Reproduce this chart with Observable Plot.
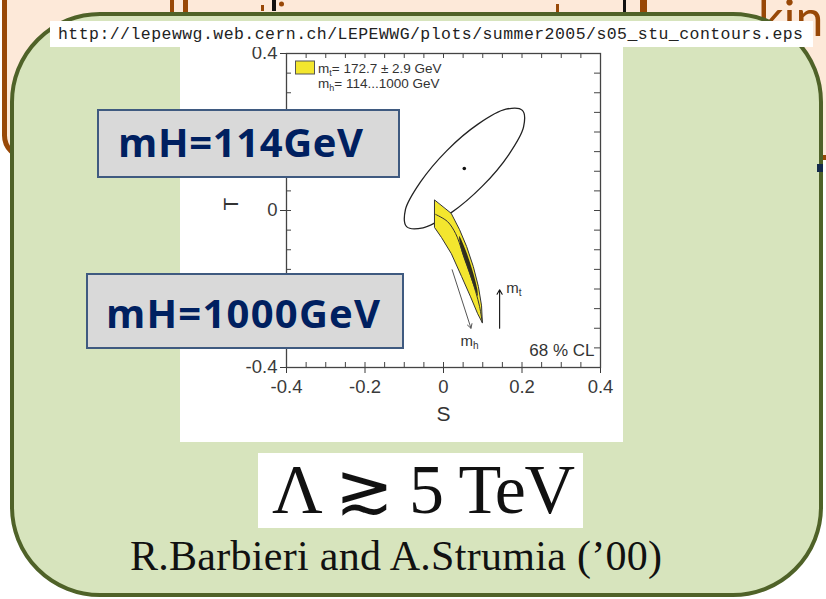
<!DOCTYPE html>
<html><head><meta charset="utf-8">
<script src="https://cdn.jsdelivr.net/npm/d3@7"></script>
<script src="https://cdn.jsdelivr.net/npm/@observablehq/plot@0.6"></script>
<style>
html,body{margin:0;padding:0;background:#fff;}
#slide{position:relative;width:826px;height:599px;overflow:hidden;background:#fff;}
.layer{position:absolute;left:0;top:0;}
#plot{position:absolute;left:180px;top:47px;width:443px;height:395px;background:#fff;}
</style></head><body>
<div id="slide">
<svg class="layer" id="bg" width="826" height="599">
  <rect x="4.5" y="-100" width="900" height="257.5" rx="22" fill="#fde9d9" stroke="#984807" stroke-width="5"/>
  <rect x="170" y="0" width="4" height="14" fill="#984807"/>
  <rect x="183" y="0" width="5" height="14" fill="#984807"/>
  <rect x="261" y="5" width="3" height="6" fill="#984807"/>
  <rect x="272" y="0" width="4" height="11" fill="#111"/>
  <circle cx="281.5" cy="4" r="2.5" fill="#984807"/>
  <rect x="556" y="4" width="3" height="10" fill="#984807"/>
  <rect x="623" y="0" width="3" height="12" fill="#111"/>
  <rect x="640" y="0" width="7" height="14" fill="#984807"/>
  <text x="758" y="36" font-family="Lato, 'Open Sans', sans-serif" font-size="50" fill="#984807">kin</text>
  <rect x="12" y="14" width="809" height="581" rx="88" fill="#d7e4bd" stroke="#4f6228" stroke-width="4"/>
</svg>
<div id="plot"></div>
<svg class="layer" id="fg" width="826" height="599">
  <rect x="50" y="21" width="763" height="26" fill="#fff"/>
  <text x="58" y="39" font-family="'Liberation Mono', monospace" font-size="16.5" fill="#222" textLength="745" lengthAdjust="spacing">http://lepewwg.web.cern.ch/LEPEWWG/plots/summer2005/s05_stu_contours.eps</text>
  <rect x="295.5" y="61" width="19" height="13" fill="#f3e62e" stroke="#555" stroke-width="1"/>
  <text x="318" y="73" font-family="'Liberation Sans', Arial, sans-serif" font-size="13.5" fill="#333">m<tspan font-size="9" dy="3">t</tspan><tspan dy="-3">= 172.7 ± 2.9 GeV</tspan></text>
  <text x="318" y="88" font-family="'Liberation Sans', Arial, sans-serif" font-size="13.5" fill="#333">m<tspan font-size="9" dy="3">h</tspan><tspan dy="-3">= 114...1000 GeV</tspan></text>
  <rect x="98" y="110" width="301" height="67" fill="#d9d9d9" stroke="#3f5a80" stroke-width="2"/>
  <text x="118" y="157" font-family="'Open Sans', sans-serif" font-weight="700" font-size="40" fill="#002060" textLength="245" lengthAdjust="spacing">mH=114GeV</text>
  <rect x="87" y="274" width="316" height="74" fill="#d9d9d9" stroke="#3f5a80" stroke-width="2"/>
  <text x="106" y="328" font-family="'Open Sans', sans-serif" font-weight="700" font-size="40" fill="#002060" textLength="274" lengthAdjust="spacing">mH=1000GeV</text>
  <rect x="258" y="453" width="325" height="75" fill="#fff"/>
  <text x="272" y="513" font-family="'Liberation Serif', serif" font-size="70" fill="#111" textLength="303" lengthAdjust="spacing">Λ ≳ 5 TeV</text>
  <text x="130" y="570" font-family="'Liberation Serif', serif" font-size="42" fill="#111" textLength="532" lengthAdjust="spacing">R.Barbieri and A.Strumia (’00)</text>
  <rect x="817" y="164" width="6" height="8" fill="#142a4c"/>
</svg>
</div>
<script>
// ---- data (S, T coordinates) ----
const xMajorTicks = [-0.4, -0.2, 0, 0.2, 0.4];
const yMajorTicks = [-0.4, -0.2, 0, 0.2, 0.4];
const yHiddenLabels = [-0.2, 0.2]; // covered by the mH boxes in the reference
const allTicks = [-0.4, -0.35, -0.3, -0.25, -0.2, -0.15, -0.1, -0.05, 0, 0.05, 0.1, 0.15, 0.2, 0.25, 0.3, 0.35, 0.4];

// 68% CL contour (ellipse outline points)
const ellipseS = [0.201, 0.204, 0.166, 0.099, 0.019, -0.052, -0.094, -0.097, -0.059, 0.008, 0.088, 0.159];
const ellipseT = [0.255, 0.213, 0.142, 0.062, -0.006, -0.044, -0.041, 0.002, 0.072, 0.152, 0.220, 0.258];
// best fit point
const bestS = [0.053];
const bestT = [0.107];

// SM prediction band (mt = 172.7 ± 2.9, mh = 114..1000)
const bandS = [-0.023, -0.023, -0.005, 0.020, 0.046, 0.069, 0.087, 0.099, 0.097, 0.089, 0.076, 0.059, 0.041, 0.020];
const bandT = [0.026, -0.043, -0.069, -0.110, -0.168, -0.220, -0.263, -0.286, -0.243, -0.194, -0.143, -0.092, -0.049, -0.008];
// central line of the band
const centerS = [-0.020, 0.010, 0.031, 0.048, 0.066, 0.082, 0.092, 0.099];
const centerT = [-0.010, -0.028, -0.059, -0.105, -0.156, -0.207, -0.245, -0.286];
// dark overlap region in the band
const coreS = [0.040, 0.056, 0.073, 0.086, 0.087, 0.078, 0.062, 0.045];
const coreT = [-0.065, -0.100, -0.150, -0.200, -0.218, -0.195, -0.150, -0.100];

// arrows: mh (downward) and mt (upward)
const arrowNames = ["h", "t"];
const arrowS1 = [0.022, 0.143];
const arrowT1 = [-0.151, -0.300];
const arrowS2 = [0.070, 0.143];
const arrowT2 = [-0.300, -0.202];
const labelS = [0.043, 0.160];
const labelT = [-0.332, -0.197];

const clText = ["68 % CL"];
const xLabel = ["S"];
const yLabel = ["T"];

// ---- tables ----
const ellipse = ellipseS.map((s, i) => ({S: s, T: ellipseT[i]}));
const best = bestS.map((s, i) => ({S: s, T: bestT[i]}));
const band = bandS.map((s, i) => ({S: s, T: bandT[i]}));
const center = centerS.map((s, i) => ({S: s, T: centerT[i]}));
const core = coreS.map((s, i) => ({S: s, T: coreT[i]}));
const arrows = arrowNames.map((n, i) => ({n, S1: arrowS1[i], T1: arrowT1[i], S2: arrowS2[i], T2: arrowT2[i], LS: labelS[i], LT: labelT[i]}));

const fmtX = d => String(d);
const fmtY = d => yHiddenLabels.includes(d) ? "" : String(d);
const innerH = 395 - 6 - 75;
const innerW = 443 - 106 - 23;

const chart = Plot.plot({
  width: 443, height: 395,
  marginLeft: 106, marginRight: 23, marginTop: 6, marginBottom: 75,
  style: {background: "#fff", color: "#3a3a3a", fontFamily: "'Liberation Sans', Arial, sans-serif", fontSize: "18.5px", overflow: "visible"},
  x: {domain: [-0.4, 0.4], ticks: xMajorTicks, tickFormat: fmtX, tickSize: 6, tickPadding: 6, label: null},
  y: {domain: [-0.4, 0.4], ticks: yMajorTicks, tickFormat: fmtY, tickSize: 6, tickPadding: 3, label: null},
  marks: [
    Plot.ruleX(allTicks, {x: d => d, insetTop: innerH - 5, stroke: "#444"}),
    Plot.ruleX(allTicks, {x: d => d, insetBottom: innerH - 5, stroke: "#444"}),
    Plot.ruleY(allTicks, {y: d => d, insetRight: innerW - 5, stroke: "#444"}),
    Plot.ruleY(allTicks, {y: d => d, insetLeft: innerW - 6, stroke: "#444"}),
    Plot.line(ellipse, {x: "S", y: "T", curve: "catmull-rom-closed", stroke: "#222", strokeWidth: 1.3}),
    Plot.dot(best, {x: "S", y: "T", r: 1.8, fill: "#111", stroke: null}),
    Plot.line(band, {x: "S", y: "T", curve: "linear-closed", fill: "#f3e62e", stroke: "#333", strokeWidth: 1}),
    Plot.line(core, {x: "S", y: "T", curve: "catmull-rom-closed", fill: "#1a1a1a", stroke: "none", fillOpacity: 0.9}),
    Plot.line(center, {x: "S", y: "T", curve: "catmull-rom", stroke: "#333", strokeWidth: 1}),
    Plot.arrow(arrows.slice(0, 1), {x1: "S1", y1: "T1", x2: "S2", y2: "T2", stroke: "#555", strokeWidth: 1, headLength: 7}),
    Plot.arrow(arrows.slice(1), {x1: "S1", y1: "T1", x2: "S2", y2: "T2", stroke: "#111", strokeWidth: 1.1, headLength: 7}),
    Plot.text(arrows, {x: "LS", y: "LT", text: () => "m", textAnchor: "start", fontSize: 15, fill: "#333"}),
    Plot.text(arrows, {x: "LS", y: "LT", text: "n", textAnchor: "start", dx: 12.5, dy: 5, fontSize: 10, fill: "#333"}),
    Plot.text(clText, {frameAnchor: "bottom-right", textAnchor: "end", dx: -6, dy: -12, fontSize: 17, fill: "#333"}),
    Plot.text(xLabel, {frameAnchor: "bottom", dy: 53, fontSize: 21, fill: "#333"}),
    Plot.text(yLabel, {frameAnchor: "left", dx: -55, rotate: -90, fontSize: 21, fill: "#333"}),
    Plot.frame({stroke: "#444", strokeWidth: 1.3})
  ]
});
document.getElementById("plot").appendChild(chart);
</script>
</body></html>
